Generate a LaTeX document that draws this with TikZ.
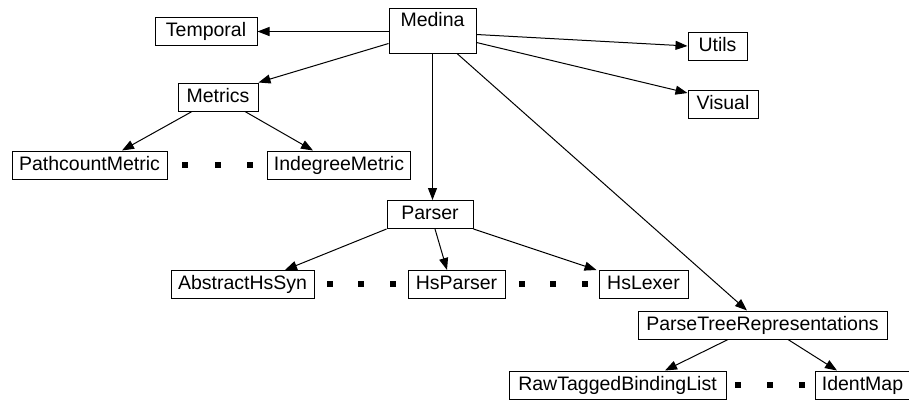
\documentclass[tikz,border=0pt]{standalone}
\usepackage{fontspec}
\setmainfont{Liberation Sans}
\usetikzlibrary{arrows.meta}
\tikzstyle{module} = [rectangle, draw=black, line width=1pt, inner xsep=6pt, inner ysep=0pt,
 text height=14.5pt, text depth=4pt, minimum height=28pt, font=\fontsize{19.5}{21}\selectfont]
\tikzstyle{rootmodule} = [module, text depth=23pt, minimum height=45pt]
\tikzstyle{arrow} = [line width=1pt, -{Triangle[length=12pt, width=9pt]}]
\tikzstyle{gap} = [fill=black]

\begin{document}
\begin{tikzpicture}[x=1pt, y=-1pt]
\useasboundingbox (0,0) rectangle (909,400);

\node (MEDINA) [rootmodule, minimum width=87pt] at (432.5,30.5) {Medina};

\node (TEMPORAL) [module, minimum width=102pt] at (206,31.5) {Temporal};
\node (METRICS) [module, minimum width=80pt] at (218,97) {Metrics};
\node (UTILS) [module, minimum width=59pt] at (717.5,46) {Utils};
\node (VISUAL) [module, minimum width=70pt] at (723,104) {Visual};

\node (PATHCOUNT) [module, minimum width=155pt] at (89.5,165) {PathcountMetric};
\node (INDEGREE) [module, minimum width=142pt] at (339,165) {IndegreeMetric};

\node (PARSER) [module, minimum width=86pt] at (430,214.5) {Parser};
\node (ABSTRACT) [module, minimum width=143pt] at (242.5,284.5) {AbstractHsSyn};
\node (HSPARSER) [module, minimum width=97pt] at (456.5,284.5) {HsParser};
\node (HSLEXER) [module, minimum width=89pt] at (643.5,284.5) {HsLexer};

\node (PTR) [module, minimum width=249pt] at (762.5,325) {ParseTreeRepresentations};
\node (RAWTAGGED) [module, minimum width=217pt] at (617.5,385) {RawTaggedBindingList};
\node (IDENTMAP) [module, minimum width=85pt] at (862.5,385) {IdentMap};

% Elided siblings
\foreach \x/\y in {185/165, 218/165, 250/165,
    330/284, 361/284, 393/284, 522/284, 553/284, 585/284,
    738/385, 770/385, 802/385}
    \fill[gap] (\x-3,\y-3) rectangle ++(6,6);

% Arrows
\draw[arrow] (MEDINA.west |- TEMPORAL.east) -- (TEMPORAL.east);
\draw[arrow] ([yshift=-13pt]MEDINA.west) -- (METRICS.north east);
\draw[arrow] ([yshift=-4pt]MEDINA.east) -- (UTILS.west);
\draw[arrow] ([yshift=-12pt]MEDINA.east) -- ([yshift=11pt]VISUAL.west);
\draw[arrow] (MEDINA.south) -- (MEDINA.south |- PARSER.north);
\draw[arrow] ([xshift=24.5pt]MEDINA.south) -- ([xshift=-15.5pt]PTR.north);

\draw[arrow] ([xshift=-26pt]METRICS.south) -- ([xshift=32.5pt]PATHCOUNT.north);
\draw[arrow] ([xshift=27pt]METRICS.south) -- ([xshift=-26pt]INDEGREE.north);

\draw[arrow] (PARSER.south west) -- ([xshift=42.5pt]ABSTRACT.north);
\draw[arrow] ([xshift=5pt]PARSER.south) -- ([xshift=-9.5pt]HSPARSER.north);
\draw[arrow] (PARSER.south east) -- ([xshift=-2pt]HSLEXER.north west);

\draw[arrow] ([xshift=-34.5pt]PTR.south) -- ([xshift=47.5pt]RAWTAGGED.north);
\draw[arrow] ([xshift=25.5pt]PTR.south) -- ([xshift=-25.5pt]IDENTMAP.north);

\end{tikzpicture}
\end{document}
